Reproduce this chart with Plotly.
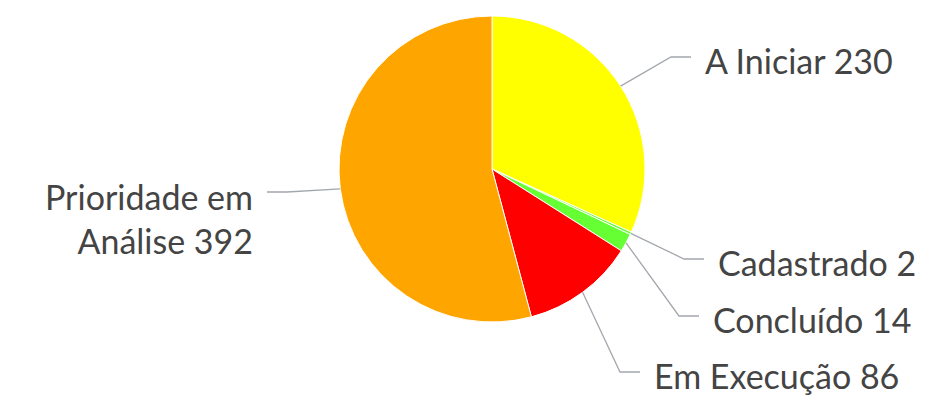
import math
import plotly.graph_objects as go

# ---- data ----
labels = ["A Iniciar", "Cadastrado", "Concluído", "Em Execução", "Prioridade em Análise"]
values = [230, 2, 14, 86, 392]
label_text = ["A Iniciar 230", "Cadastrado 2", "Concluído 14", "Em Execução 86",
              "Prioridade em<br>Análise 392"]
colors = ["#FFFF00", "#66FF33", "#66FF33", "#FF0000", "#FFA500"]

# ---- layout (pixels) ----
W, H = 934, 400
CX, CY, R = 492, 169, 153
label_x = [703, 716, 711, 652, 255]
label_y = [60, 262, 319, 375, 218]
conn_y = [57, 259, 316, 372, 192]
side = [1, 1, 1, 1, -1]
FONT = "Lato"
FSIZE = 34
LINE_COLOR = "#A3A8AE"
TEXT_COLOR = "#444444"

def px(x, y):
    return x / W, 1 - y / H

fig = go.Figure()
fig.add_trace(go.Pie(
    labels=labels, values=values, sort=False, direction="clockwise", rotation=0,
    marker=dict(colors=colors, line=dict(color="#FFFFFF", width=1)),
    textinfo="none", hoverinfo="label+value",
    domain=dict(x=[(CX - R) / W, (CX + R) / W], y=[(H - CY - R) / H, (H - CY + R) / H]),
))

total = sum(values)
cum = 0
shapes = []
annotations = []
for i, v in enumerate(values):
    mid = (cum + v / 2) / total * 2 * math.pi
    cum += v
    sx = CX + R * math.sin(mid)
    sy = CY - R * math.cos(mid)
    ex = label_x[i] - side[i] * 12
    bx = label_x[i] - side[i] * 32
    p0, p1, p2 = px(sx, sy), px(bx, conn_y[i]), px(ex, conn_y[i])
    shapes.append(dict(type="path", xref="paper", yref="paper",
                       path=f"M {p0[0]},{p0[1]} L {p1[0]},{p1[1]} L {p2[0]},{p2[1]}",
                       line=dict(color=LINE_COLOR, width=1.3)))
    ax, ay = px(label_x[i], label_y[i])
    annotations.append(dict(text=label_text[i], x=ax, y=ay, xref="paper", yref="paper",
                            xanchor="left" if side[i] > 0 else "right", yanchor="middle",
                            align="left" if side[i] > 0 else "right",
                            showarrow=False,
                            font=dict(family=FONT, size=FSIZE, color=TEXT_COLOR)))

fig.update_layout(
    width=W, height=H, margin=dict(l=0, r=0, t=0, b=0),
    paper_bgcolor="white", plot_bgcolor="white", showlegend=False,
    shapes=shapes, annotations=annotations,
)
fig.write_html("out.html", config={"displayModeBar": False},
               post_script="document.body.style.margin='0';document.body.style.overflow='hidden';")
